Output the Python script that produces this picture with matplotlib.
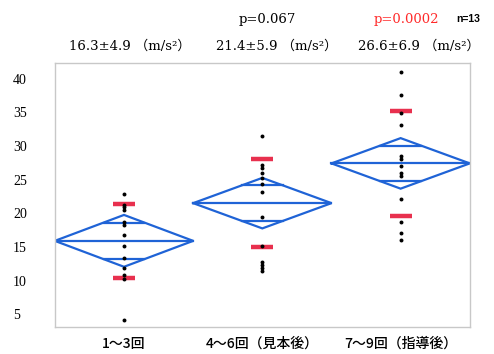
import numpy as np
import matplotlib.pyplot as plt

# groups and their measurements (n=13 each)
groups = ['1～3回', '4～6回（見本後）', '7～9回（指導後）']
g1 = [22.85, 21.2, 20.9, 20.5, 18.7, 18.3, 16.7, 15.1, 13.4, 11.8, 10.8, 10.2, 4.2]
g2 = [31.5, 27.2, 26.7, 26.0, 25.3, 24.4, 23.2, 19.4, 15.1, 12.7, 12.3, 11.8, 11.4]
g3 = [41.0, 37.5, 34.9, 33.1, 28.5, 28.0, 27.0, 26.0, 25.6, 22.1, 18.7, 17.0, 16.1]

# means diamonds (mean, 95% CI half width) and SD bars
means = [15.9, 21.5, 27.4]
ci_half = [3.85, 3.75, 3.75]
sds = [5.45, 6.55, 7.75]

stats_labels = ['16.3±4.9 （m/s²）', '21.4±5.9 （m/s²）', '26.6±6.9 （m/s²）']
p_values = ['p=0.067', 'p=0.0002']
n_label = 'n=13'

blue = '#1f63d6'
red = '#e8304e'
serif = ['DejaVu Serif', 'Noto Sans CJK JP']
gothic = ['Noto Sans CJK JP', 'DejaVu Sans']


def diamond(ax, x, m, ci):
    ax.plot([x - 0.5, x, x + 0.5, x, x - 0.5], [m, m + ci, m, m - ci, m],
            color=blue, lw=1.6, solid_joinstyle='miter')
    ax.plot([x - 0.5, x + 0.5], [m, m], color=blue, lw=1.6)
    # overlap marks
    d = ci / np.sqrt(2)
    hw = 0.5 * (1 - d / ci)
    for y in (m + d, m - d):
        ax.plot([x - hw, x + hw], [y, y], color=blue, lw=1.6)


def main():
    fig = plt.figure(figsize=(4.94, 3.54), dpi=100)
    ax = fig.add_axes([0.111, 0.076, 0.840, 0.746])

    data = [g1, g2, g3]
    xs = np.arange(1, len(groups) + 1)
    for x, vals, m, ci, sd in zip(xs, data, means, ci_half, sds):
        diamond(ax, x, m, ci)
        ax.hlines([m - sd, m + sd], x - 0.08, x + 0.08, color=red, lw=3.2, zorder=3)
        ax.scatter(np.full(len(vals), x), vals, s=8, color='black', zorder=4, lw=0)

    ax.set_xlim(0.5, 3.5)
    ax.set_ylim(3.1, 42.3)
    ax.set_yticks([5, 10, 15, 20, 25, 30, 35, 40])
    ax.set_xticks(xs)
    ax.set_xticklabels(groups, family=gothic, fontsize=10, weight='medium')
    ax.tick_params(length=0)
    ax.tick_params(axis='x', pad=7)
    ax.tick_params(axis='y', pad=30)
    for lab in ax.get_yticklabels():
        lab.set_ha('left')
        lab.set_family('Liberation Serif')
        lab.set_fontsize(10)
    for sp in ax.spines.values():
        sp.set_color('#c8c8c8')
        sp.set_linewidth(1)

    # header text
    for xpx, s in zip([130, 277, 419], stats_labels):
        fig.text(xpx / 494, 1 - 46 / 354, s, ha='center', va='center',
                 family=serif, fontsize=9.5)
    fig.text(267 / 494, 1 - 19 / 354, p_values[0], ha='center', va='center',
             family=serif, fontsize=9.5)
    fig.text(406 / 494, 1 - 19 / 354, p_values[1], ha='center', va='center',
             family=serif, fontsize=9.5, color='#ff2a2a')
    fig.text(468 / 494, 1 - 19 / 354, n_label, ha='center', va='center',
             family='Liberation Sans', fontsize=7.5, weight='bold')

    fig.savefig('out.png', dpi=100)


if __name__ == '__main__':
    main()
